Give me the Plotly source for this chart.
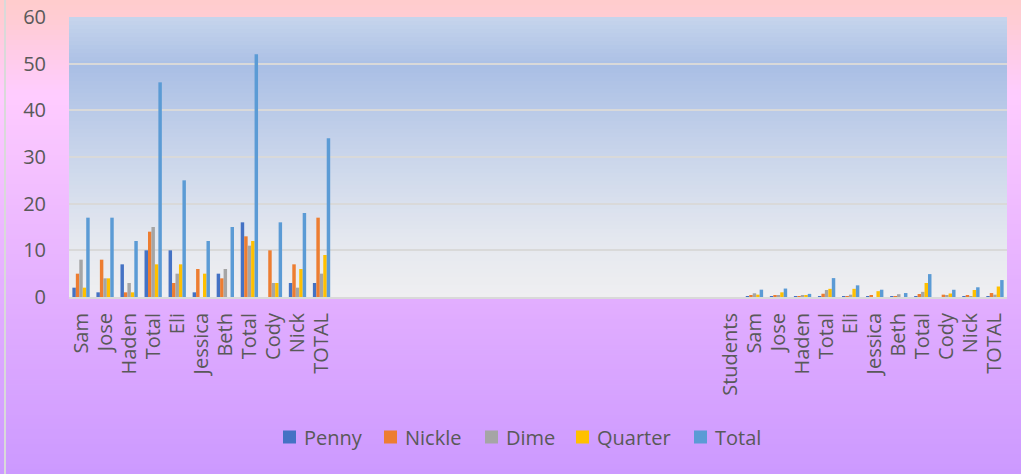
import plotly.graph_objects as go

# ---------------- data ----------------
left_labels = ["Sam", "Jose", "Haden", "Total", "Eli", "Jessica", "Beth", "Total", "Cody", "Nick", "TOTAL"]
blank_count = 16
right_labels = ["Students", "Sam", "Jose", "Haden", "Total", "Eli", "Jessica", "Beth", "Total", "Cody", "Nick", "TOTAL"]

# counts of coins (left block)
penny_cnt = [2, 1, 7, 10, 10, 1, 5, 16, 0, 3, 3]
nickle_cnt = [5, 8, 1, 14, 3, 6, 4, 13, 10, 7, 17]
dime_cnt = [8, 4, 3, 15, 5, 0, 6, 11, 3, 2, 5]
quarter_cnt = [2, 4, 1, 7, 7, 5, 0, 12, 3, 6, 9]
total_cnt = [17, 17, 12, 46, 25, 12, 15, 52, 16, 18, 34]

# dollar values (right block, "Students" header row has no values)
penny_usd = [None, 0.02, 0.01, 0.07, 0.10, 0.10, 0.01, 0.05, 0.16, 0.00, 0.03, 0.03]
nickle_usd = [None, 0.25, 0.40, 0.05, 0.70, 0.15, 0.30, 0.20, 0.65, 0.50, 0.35, 0.85]
dime_usd = [None, 0.80, 0.40, 0.30, 1.50, 0.50, 0.00, 0.60, 1.10, 0.30, 0.20, 0.50]
quarter_usd = [None, 0.50, 1.00, 0.25, 1.75, 1.75, 1.25, 0.00, 3.00, 0.75, 1.50, 2.25]
total_usd = [None, 1.57, 1.81, 0.67, 4.05, 2.50, 1.56, 0.85, 4.91, 1.55, 2.08, 3.63]

series_names = ["Penny", "Nickle", "Dime", "Quarter", "Total"]
series_colors = ["#4472C4", "#ED7D31", "#A5A5A5", "#FFC000", "#5B9BD5"]

# ---------------- build ----------------
tick_text = left_labels + [""] * blank_count + right_labels
x_pos = list(range(len(tick_text)))
blanks = [None] * blank_count
series_values = [
    penny_cnt + blanks + penny_usd,
    nickle_cnt + blanks + nickle_usd,
    dime_cnt + blanks + dime_usd,
    quarter_cnt + blanks + quarter_usd,
    total_cnt + blanks + total_usd,
]

W, H = 1021, 474
ML, MR, MT, MB = 69, 14, 17, 177
PW, PH = W - ML - MR, H - MT - MB

def px_x(px):
    return (px - ML) / PW

def px_y(py):
    return (H - MB - py) / PH

def hex2rgb(h):
    h = h.lstrip("#")
    return tuple(int(h[i:i + 2], 16) for i in (0, 2, 4))

def interp(stops, t):
    for (t0, c0), (t1, c1) in zip(stops, stops[1:]):
        if t0 <= t <= t1:
            f = 0 if t1 == t0 else (t - t0) / (t1 - t0)
            a, b = hex2rgb(c0), hex2rgb(c1)
            return "rgb(%d,%d,%d)" % tuple(round(a[i] + (b[i] - a[i]) * f) for i in range(3))
    return stops[-1][1]

shapes = []
# chart area gradient
paper_stops = [(0.0, "#FFCCCC"), (0.05, "#FFCCD6"), (0.2, "#FFCCFF"), (0.6, "#E4B0FF"), (1.0, "#CC99FF")]
N = 95
for i in range(N):
    y0, y1 = H * i / N, H * (i + 1) / N + 0.6
    shapes.append(dict(type="rect", xref="paper", yref="paper", layer="below",
                       x0=px_x(0), x1=px_x(W), y0=px_y(y1), y1=px_y(y0),
                       fillcolor=interp(paper_stops, (i + 0.5) / N), line_width=0))
# plot area gradient
plot_stops = [(0.0, "#C6D5EC"), (0.18, "#AABFE5"), (0.5, "#CAD6EB"), (0.8, "#E5E8EF"), (1.0, "#EFEFF1")]
N2 = 70
for i in range(N2):
    y0, y1 = MT + PH * i / N2, MT + PH * (i + 1) / N2 + 0.6
    shapes.append(dict(type="rect", xref="paper", yref="paper", layer="below",
                       x0=0, x1=1, y0=px_y(min(y1, H - MB)), y1=px_y(y0),
                       fillcolor=interp(plot_stops, (i + 0.5) / N2), line_width=0))
# left chart border
shapes.append(dict(type="line", xref="paper", yref="paper", layer="below",
                   x0=px_x(5), x1=px_x(5), y0=px_y(H), y1=px_y(0),
                   line=dict(color="#D9D9D9", width=2)))

font_family = "'Open Sans', sans-serif"
text_color = "#595959"

# custom legend (Excel-like spacing)
legend_square_left = [283, 384, 485, 576, 694]
legend_cy = 437
annotations = []
for name, color, sx in zip(series_names, series_colors, legend_square_left):
    shapes.append(dict(type="rect", xref="paper", yref="paper", layer="above",
                       x0=px_x(sx), x1=px_x(sx + 13), y0=px_y(legend_cy + 6.5), y1=px_y(legend_cy - 6.5),
                       fillcolor=color, line_width=0))
    annotations.append(dict(xref="paper", yref="paper", x=px_x(sx + 19), y=px_y(legend_cy),
                            xanchor="left", yanchor="middle", showarrow=False, text=name,
                            font=dict(family=font_family, size=20, color=text_color)))

fig = go.Figure()
for name, color, vals in zip(series_names, series_colors, series_values):
    fig.add_trace(go.Bar(x=x_pos, y=vals, name=name, marker_color=color,
                         marker_line_width=0, showlegend=False))

fig.update_layout(
    width=W, height=H,
    margin=dict(l=ML, r=MR, t=MT, b=MB, autoexpand=False),
    paper_bgcolor="#E4B0FF",
    plot_bgcolor="rgba(0,0,0,0)",
    barmode="group", bargap=0.28, bargroupgap=0,
    font=dict(family=font_family, size=20, color=text_color),
    shapes=shapes,
    annotations=annotations,
    showlegend=False,
)
fig.update_xaxes(
    range=[-0.5, len(tick_text) - 0.5],
    tickmode="array", tickvals=x_pos, ticktext=tick_text,
    tickangle=-90, showgrid=False, zeroline=False,
    showline=True, linecolor="#D9D9D9", linewidth=2,
    ticks="", ticklabelstandoff=6,
    tickfont=dict(size=20, color=text_color),
)
fig.update_yaxes(
    range=[0, 60], dtick=10, showgrid=True, gridcolor="#D9D9D9", gridwidth=1.6,
    zeroline=False, showline=False, ticks="", ticklabelstandoff=22,
    tickfont=dict(size=20, color=text_color),
)

fig.write_html("out.html",
               config={"displayModeBar": False},
               post_script="document.body.style.margin='0';document.body.style.overflow='hidden';")
